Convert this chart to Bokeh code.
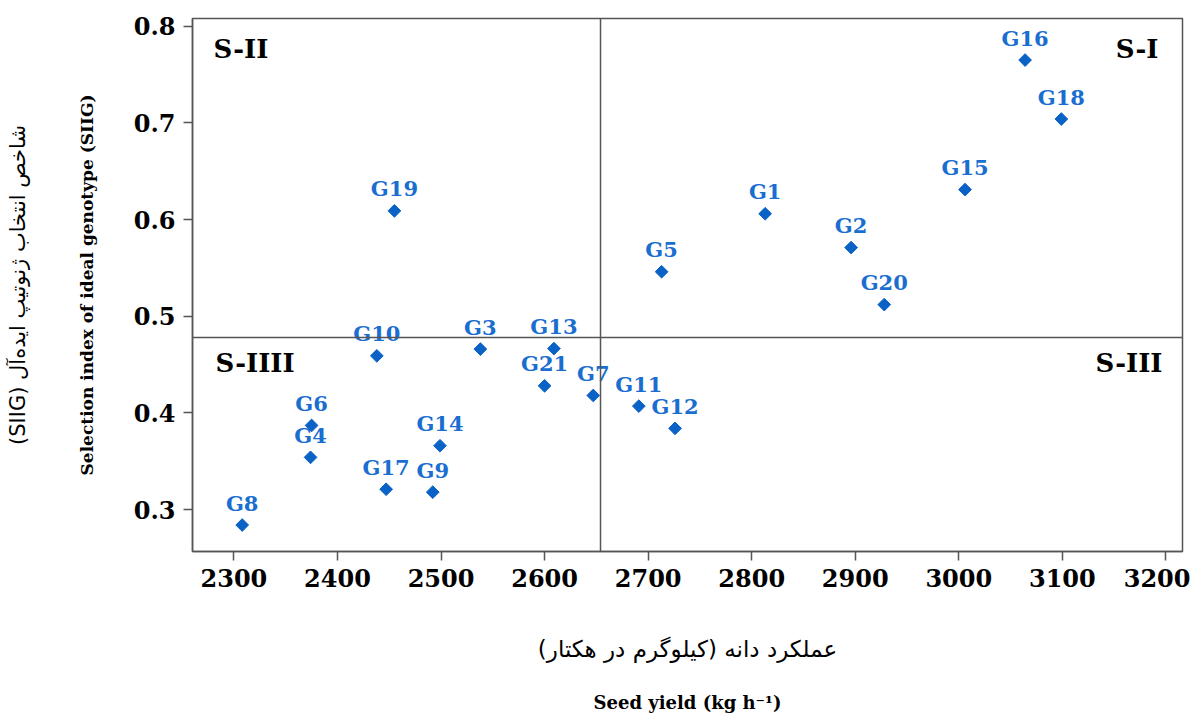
import math
from bokeh.plotting import figure
from bokeh.models import ColumnDataSource, Label, Span, FixedTicker, LinearAxis
from bokeh.core.properties import value
from bokeh.embed import file_html
from bokeh.resources import INLINE

# ---- data ----
genotypes = ["G1", "G2", "G3", "G4", "G5", "G6", "G7", "G8", "G9", "G10", "G11",
             "G12", "G13", "G14", "G15", "G16", "G17", "G18", "G19", "G20", "G21"]
seed_yield = [2813, 2896, 2538, 2374, 2713, 2375, 2647, 2308, 2492, 2438, 2691,
              2726, 2609, 2499, 3006, 3064, 2447, 3099, 2455, 2928, 2600]
siig = [0.606, 0.571, 0.466, 0.354, 0.546, 0.387, 0.418, 0.284, 0.318, 0.459, 0.407,
        0.384, 0.4665, 0.366, 0.631, 0.765, 0.321, 0.704, 0.609, 0.512, 0.428]
x_ticks = [2300, 2400, 2500, 2600, 2700, 2800, 2900, 3000, 3100, 3200]
y_ticks = [0.3, 0.4, 0.5, 0.6, 0.7, 0.8]
mean_yield = 2654
mean_siig = 0.478
quadrant_labels = ["S-I", "S-II", "S-III", "S-IIII"]

x_label_fa = "\u200f" + "عملکرد دانه (کیلوگرم در هکتار)" + "\u200f"
x_label_en = "Seed yield (kg h\u207b\u00b9)"
y_label_fa = "(SIIG) " + "شاخص انتخاب ژنوتیپ ایده\u200cآل"
y_label_en = "Selection index of ideal genotype (SIIG)"

GRAY = "#555555"
MARK = "#0a62c6"
LBL = "#1a6ed0"
SERIF = "DejaVu Serif"

p = figure(width=1190, height=717, x_range=(2260, 3216), y_range=(0.2566, 0.808),
           output_backend="svg", toolbar_location=None,
           min_border_left=192, min_border_right=8, min_border_top=18, min_border_bottom=166)
p.grid.visible = False
p.outline_line_color = GRAY
p.outline_line_width = 1.5
p.background_fill_color = "white"
p.border_fill_color = "white"

for ax in (p.xaxis[0], p.yaxis[0]):
    ax.axis_line_color = GRAY
    ax.axis_line_width = 1.5
    ax.major_tick_line_color = GRAY
    ax.major_tick_line_width = 1.5
    ax.major_tick_out = 9
    ax.major_tick_in = 0
    ax.minor_tick_line_color = None
    ax.major_label_text_font = SERIF
    ax.major_label_text_font_style = "bold"
    ax.major_label_text_font_size = "24px"
    ax.major_label_text_color = "black"
    ax.major_label_standoff = 8
    ax.axis_label_text_color = "black"

p.xaxis.ticker = FixedTicker(ticks=x_ticks)
p.yaxis.ticker = FixedTicker(ticks=y_ticks)

# axis titles (inner)
p.xaxis.axis_label = x_label_fa
p.xaxis.axis_label_text_font = "DejaVu Sans"
p.xaxis.axis_label_text_font_style = "normal"
p.xaxis.axis_label_text_font_size = "23px"
p.xaxis.axis_label_standoff = 46

p.yaxis.axis_label = y_label_en
p.yaxis.axis_label_text_font = SERIF
p.yaxis.axis_label_text_font_style = "bold"
p.yaxis.axis_label_text_font_size = "17px"
p.yaxis.axis_label_standoff = 34


def label_only_axis(text, font, style, size, standoff):
    ax = LinearAxis(ticker=FixedTicker(ticks=[]), axis_label=text)
    ax.axis_line_color = None
    ax.major_tick_out = 0
    ax.major_tick_in = 0
    ax.minor_tick_out = 0
    ax.minor_tick_in = 0
    ax.major_tick_line_color = None
    ax.minor_tick_line_color = None
    ax.major_label_standoff = 0
    ax.axis_label_text_font = font
    ax.axis_label_text_font_style = style
    ax.axis_label_text_font_size = size
    ax.axis_label_text_color = "black"
    ax.axis_label_standoff = standoff
    return ax


# axis titles (outer)
p.add_layout(label_only_axis(x_label_en, SERIF, "bold", "18px", 27), "below")
p.add_layout(label_only_axis(y_label_fa, "DejaVu Sans", "normal", "21px", 44), "left")

# quadrant dividing lines
p.add_layout(Span(location=mean_yield, dimension="height", line_color=GRAY, line_width=1.5))
p.add_layout(Span(location=mean_siig, dimension="width", line_color=GRAY, line_width=1.5))

src = ColumnDataSource(dict(x=seed_yield, y=siig, g=genotypes))
p.scatter("x", "y", source=src, marker="square", angle=math.pi / 4, size=9,
          fill_color=MARK, line_color=MARK)
p.text("x", "y", text="g", source=src, text_font=value(SERIF), text_font_style="bold",
       text_font_size="21px", text_color=LBL, text_align="center",
       text_baseline="middle", y_offset=-22)

# quadrant names (screen coords relative to the frame)
qpos = {"S-I": (966, 503, "right"), "S-II": (21, 503, "left"),
        "S-III": (970, 189, "right"), "S-IIII": (23, 189, "left")}
for q in quadrant_labels:
    qx, qy, al = qpos[q]
    p.add_layout(Label(x=qx, y=qy, x_units="screen", y_units="screen", text=q,
                       text_align=al, text_baseline="middle", text_font=SERIF,
                       text_font_style="bold", text_font_size="26px", text_color="black"))

open("out.html", "w").write(file_html(p, INLINE))
